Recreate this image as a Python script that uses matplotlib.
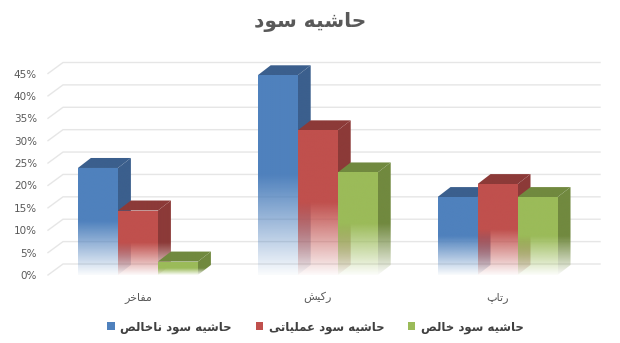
import numpy as np
import matplotlib.pyplot as plt
import matplotlib.colors as mcolors
from matplotlib.patches import Polygon, Patch

# data
title = 'حاشیه سود'
categories = ['مفاخر', 'رکیش', 'رتاپ']
series_names = ['حاشیه سود ناخالص', 'حاشیه سود عملیاتی', 'حاشیه سود خالص']
gross = [0.239, 0.446, 0.174]
operating = [0.144, 0.323, 0.203]
net = [0.030, 0.229, 0.174]
yticks = [0, 0.05, 0.10, 0.15, 0.20, 0.25, 0.30, 0.35, 0.40, 0.45]

colors = ['#4F81BD', '#C0504D', '#9BBB59']
darks = ['#3B5F8D', '#8C3A38', '#71893F']

# matplotlib has no arabic shaping -> use presentation forms, visual order
FORMS = {
    'ا': ('\ufe8d', '\ufe8e', None, None),
    'د': ('\ufea9', '\ufeaa', None, None),
    'ر': ('\ufead', '\ufeae', None, None),
    'و': ('\ufeed', '\ufeee', None, None),
    'ت': ('\ufe95', '\ufe96', '\ufe97', '\ufe98'),
    'ح': ('\ufea1', '\ufea2', '\ufea3', '\ufea4'),
    'خ': ('\ufea5', '\ufea6', '\ufea7', '\ufea8'),
    'س': ('\ufeb1', '\ufeb2', '\ufeb3', '\ufeb4'),
    'ش': ('\ufeb5', '\ufeb6', '\ufeb7', '\ufeb8'),
    'ص': ('\ufeb9', '\ufeba', '\ufebb', '\ufebc'),
    'ع': ('\ufec9', '\ufeca', '\ufecb', '\ufecc'),
    'ف': ('\ufed1', '\ufed2', '\ufed3', '\ufed4'),
    'ل': ('\ufedd', '\ufede', '\ufedf', '\ufee0'),
    'م': ('\ufee1', '\ufee2', '\ufee3', '\ufee4'),
    'ن': ('\ufee5', '\ufee6', '\ufee7', '\ufee8'),
    'ه': ('\ufee9', '\ufeea', '\ufeeb', '\ufeec'),
    'ی': ('\ufbfc', '\ufbfd', '\ufbfe', '\ufbff'),
    'ک': ('\ufb8e', '\ufb8f', '\ufb90', '\ufb91'),
    'پ': ('\ufb56', '\ufb57', '\ufb58', '\ufb59'),
}


def shape(text):
    out = []
    for i, ch in enumerate(text):
        if ch not in FORMS:
            out.append(ch)
            continue
        iso, fin, ini, med = FORMS[ch]
        prev = text[i - 1] if i > 0 else ''
        nxt = text[i + 1] if i + 1 < len(text) else ''
        join_prev = prev in FORMS and FORMS[prev][2] is not None
        join_next = ini is not None and nxt in FORMS
        if join_prev and join_next:
            out.append(med)
        elif join_prev:
            out.append(fin)
        elif join_next:
            out.append(ini)
        else:
            out.append(iso)
    return ''.join(reversed(out))


plt.rcParams['font.family'] = ['DejaVu Sans']

W, H = 620, 343
fig = plt.figure(figsize=(W / 100, H / 100), dpi=100)
left_px, right_px = 48, 600
zero_px, top_px = 275, 20
ax = fig.add_axes([left_px / W, 1 - zero_px / H, (right_px - left_px) / W, (zero_px - top_px) / H])
xlim = (-0.5, 2.57)
px_per_y = (275 - 73.5) / 0.45
px_per_x = (right_px - left_px) / (xlim[1] - xlim[0])
ylim = (0, (zero_px - top_px) / px_per_y)

# depth offsets (pixels -> data)
bdx, bdy = 13 / px_per_x, 10 / px_per_y
wdx, wdy = 15 / px_per_x, 11 / px_per_y

# walls / gridlines
for t in yticks:
    ax.plot([xlim[0], xlim[0] + wdx, xlim[1]], [t, t + wdy, t + wdy],
            color='#E6E6E6', lw=1, zorder=0, clip_on=False)


def face(pts, color, h, z):
    poly = Polygon(pts, closed=True, facecolor='none', edgecolor='none')
    ax.add_patch(poly)
    xs = [p[0] for p in pts]
    yt = max(p[1] for p in pts)
    ys = np.linspace(0, yt, 300)
    img = np.zeros((300, 1, 4))
    img[..., :3] = mcolors.to_rgb(color)
    img[:, 0, 3] = np.clip(0.03 + 0.97 * ys / (0.5 * h), 0, 1)
    im = ax.imshow(img, extent=(min(xs), max(xs), 0, yt), origin='lower',
                   aspect='auto', interpolation='bilinear', zorder=z)
    im.set_clip_path(poly)


w = 0.2225
series = [gross, operating, net]
z = 2
for i in range(len(categories)):
    for j, vals in enumerate(series):
        h = vals[i]
        x0 = i + (j - 1.5) * w
        x1 = x0 + w
        face([(x1, 0), (x1 + bdx, bdy), (x1 + bdx, h + bdy), (x1, h)], darks[j], h, z)
        face([(x0, h), (x1, h), (x1 + bdx, h + bdy), (x0 + bdx, h + bdy)], darks[j], h, z + 0.1)
        face([(x0, 0), (x1, 0), (x1, h), (x0, h)], colors[j], h, z + 0.2)
        z += 1

ax.set_xlim(*xlim)
ax.set_ylim(*ylim)
for s in ax.spines.values():
    s.set_visible(False)
ax.set_yticks(yticks)
ax.set_yticklabels([f'{round(t * 100)}%' for t in yticks])
ax.set_xticks(range(len(categories)))
ax.set_xticklabels([shape(c) for c in categories])
ax.tick_params(axis='y', length=0, pad=8, labelsize=7.5, labelcolor='#595959')
ax.tick_params(axis='x', length=0, pad=12, labelsize=8, labelcolor='#595959')

fig.text(0.5, 1 - 22 / H, shape(title), ha='center', va='center',
         fontsize=14.5, fontweight='bold', color='#595959')

handles = [Patch(facecolor=c, edgecolor='none') for c in colors]
leg = fig.legend(handles, [shape(s) for s in series_names], loc='center',
                 bbox_to_anchor=(0.509, 1 - 327 / H), ncol=3, frameon=False,
                 handlelength=0.6, handleheight=0.6, handletextpad=0.5,
                 columnspacing=2.0, prop={'size': 8.5, 'weight': 'bold'})
for txt in leg.get_texts():
    txt.set_color('#404040')

fig.savefig('out.png', dpi=100)
